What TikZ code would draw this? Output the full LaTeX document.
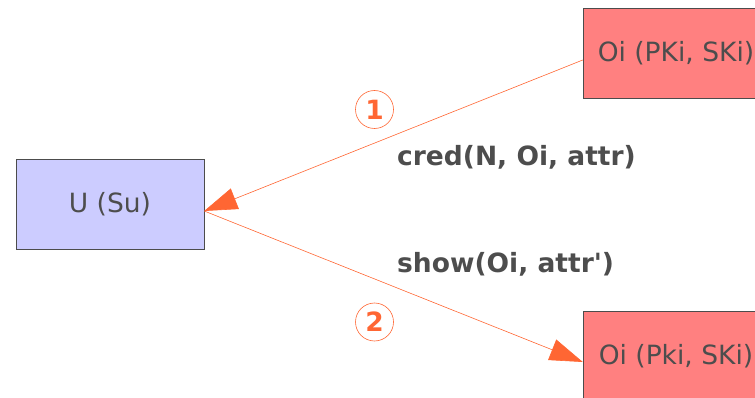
\documentclass[tikz,border=0pt]{standalone}
\usepackage{fontspec}
\setmainfont{DejaVu Sans}
\usetikzlibrary{arrows.meta}

\definecolor{userblue}{HTML}{CCCCFF}
\definecolor{issred}{HTML}{FF8080}
\definecolor{flow}{HTML}{FF6633}
\definecolor{ink}{HTML}{4D4D4D}

\begin{document}
\begin{tikzpicture}[x=1pt, y=-1pt,
	party/.style={draw=black!70, minimum width=186pt, minimum height=90pt,
		text=ink, font=\fontsize{26.5}{30}\selectfont},
	msg/.style={draw=flow, line width=.6pt,
		-{Triangle[length=33pt, width=22pt]}},
	stepno/.style={circle, draw=flow, line width=.6pt, minimum size=38pt,
		inner sep=0pt, text=flow, font=\fontsize{26.5}{30}\selectfont\bfseries},
	msglabel/.style={anchor=west, inner sep=0pt, text=ink,
		font=\fontsize{26.5}{30}\selectfont\bfseries}]
	\useasboundingbox (0, 0) rectangle (755, 398);
	\clip (0, 0) rectangle (755, 398);

		% the user and the two issuers
		\node[party, fill=userblue, minimum width=188pt] (user) at(110, 204){U (Su)};
		\node[party, fill=issred] (issA) at(676, 53){Oi (PKi, SKi)};
		\node[party, fill=issred] (issB) at(676, 356){Oi (Pki, SKi)};

		% issuing, then showing
		\draw[msg]([yshift=-7pt]issA.west) to ([yshift=-7pt]user.east);
		\draw[msg]([yshift=-7pt]user.east) to ([yshift=-6pt]issB.west);

		\node[stepno] (one) at(374.5, 109.5){1};
		\node[msglabel] (cred) at(397, 157){cred(N, Oi, attr)};

		\node[msglabel] (show) at(397, 264){show(Oi, attr\textquotesingle)};
		\node[stepno] (two) at(374.5, 322){2};
	\end{tikzpicture}
\end{document}
